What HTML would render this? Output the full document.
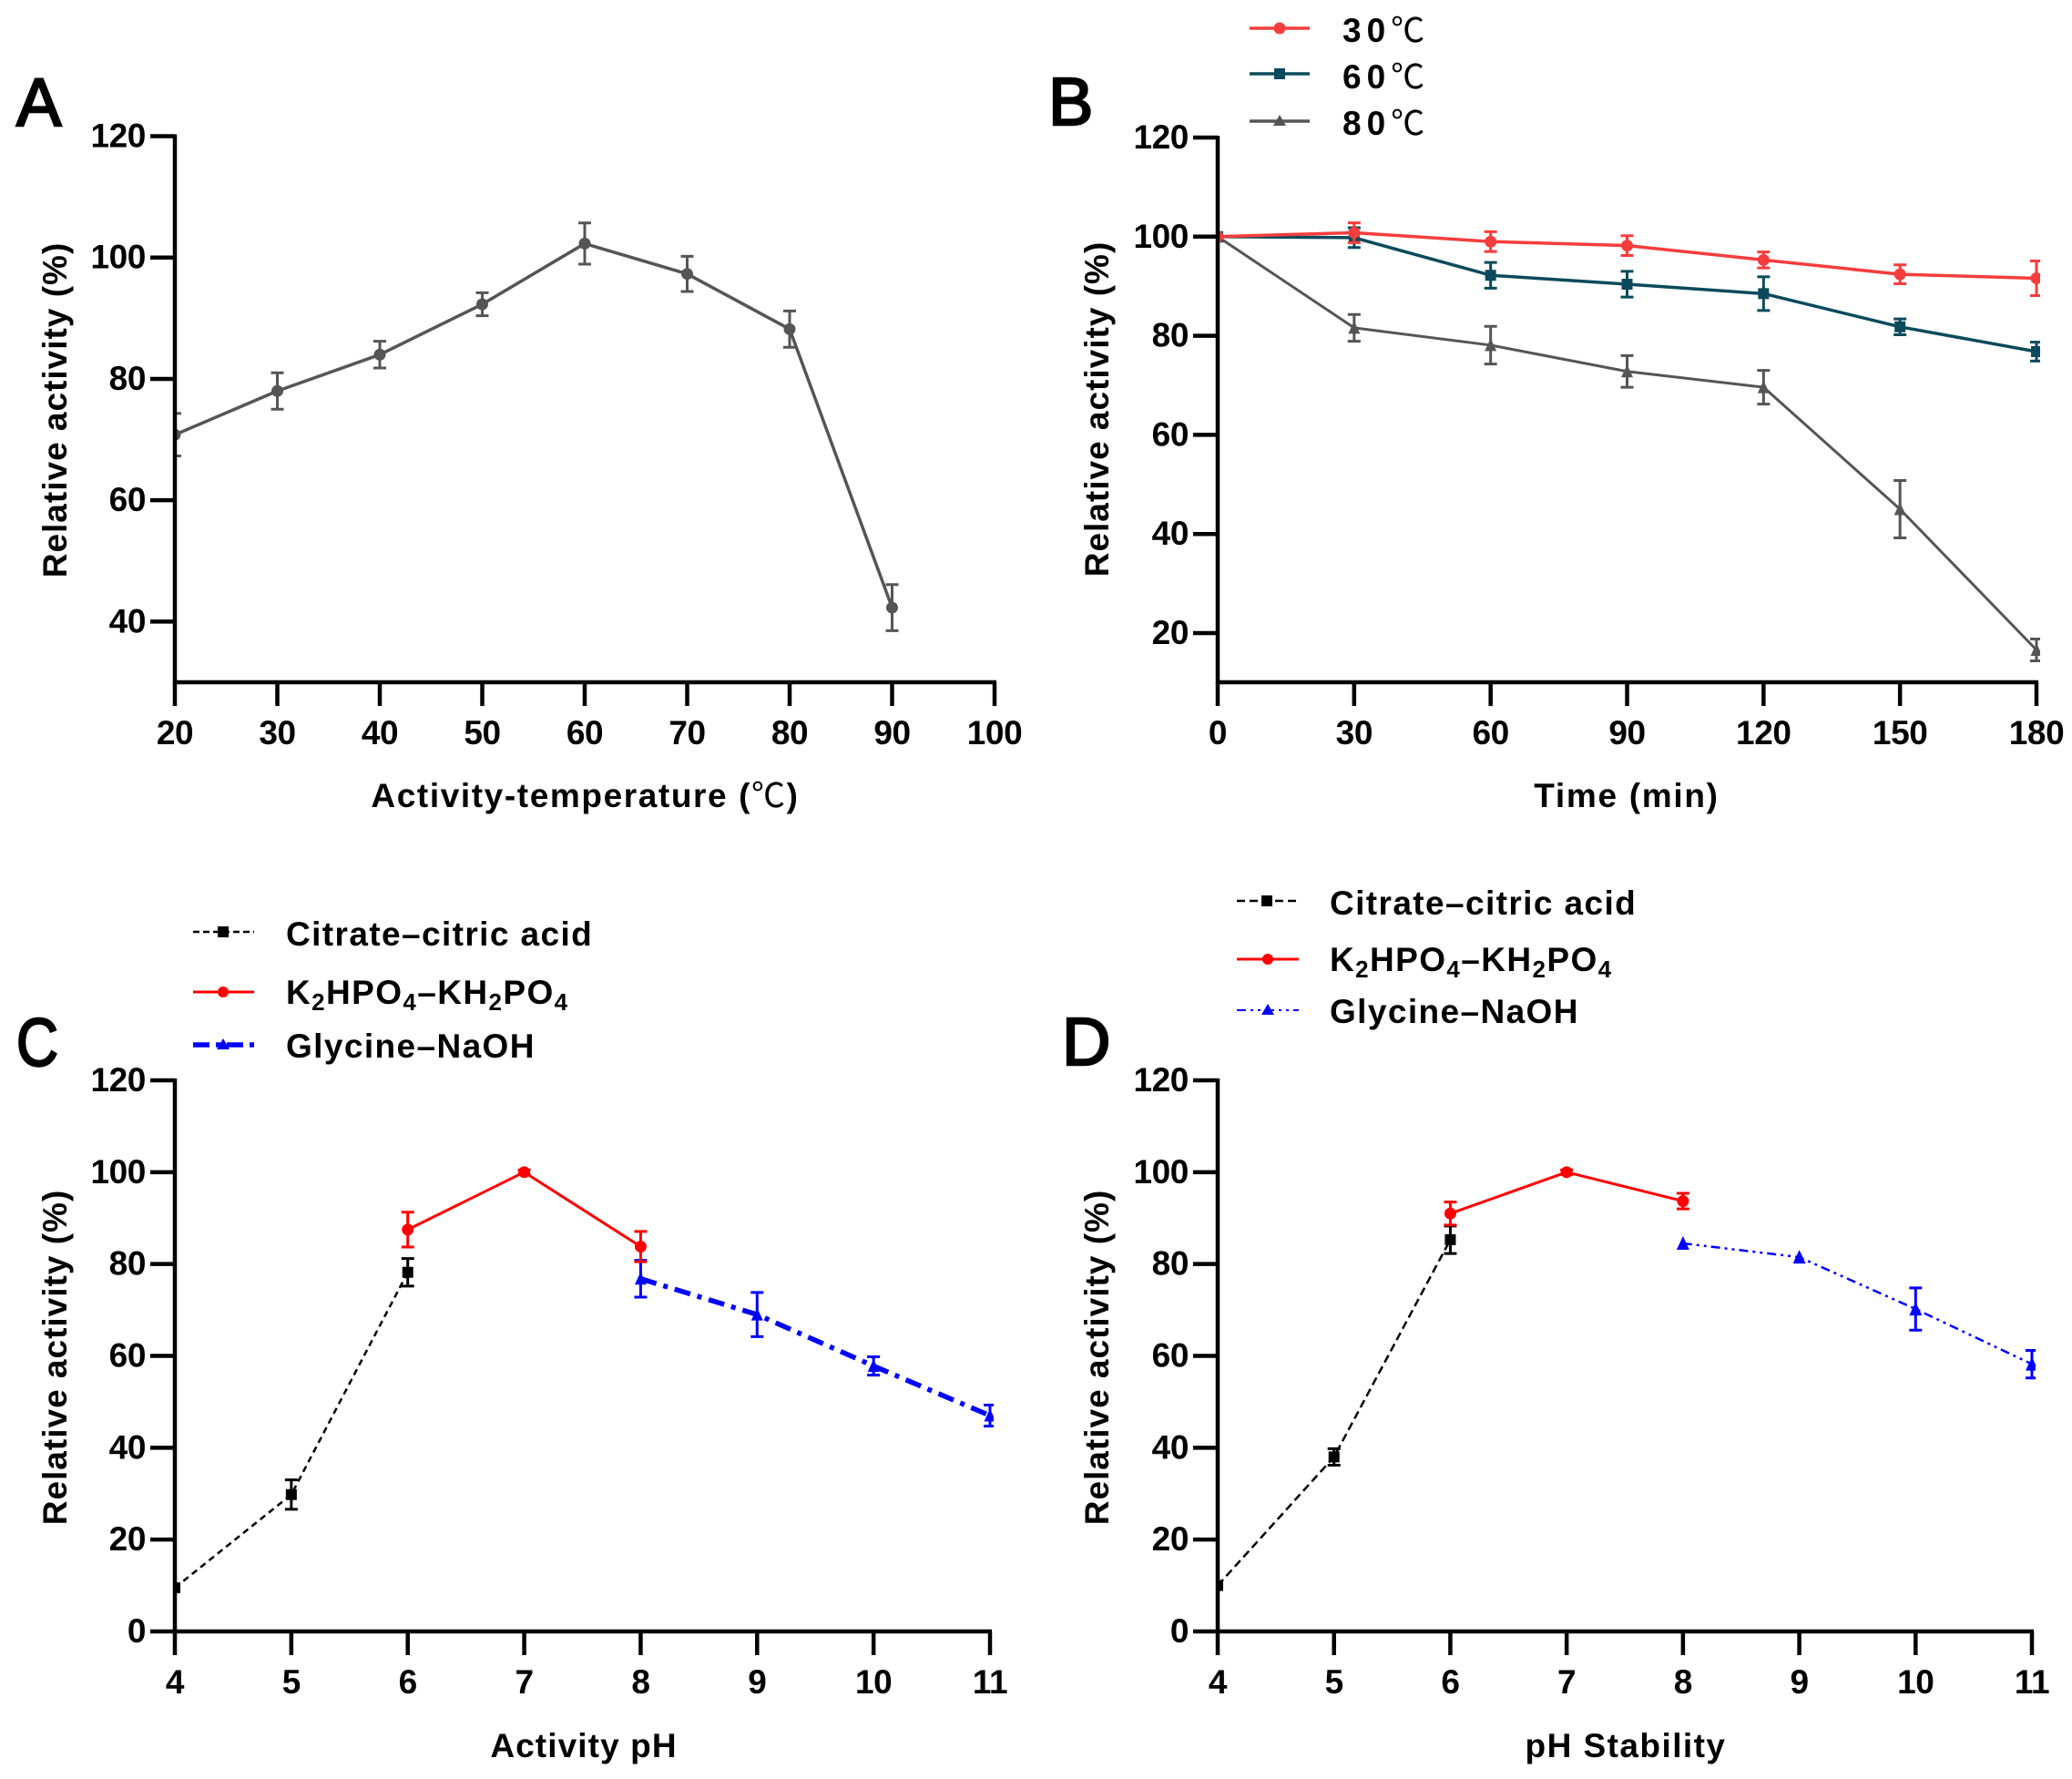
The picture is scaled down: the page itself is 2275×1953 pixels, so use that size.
<!DOCTYPE html>
<html lang="en">
<head>
<meta charset="utf-8">
<title>Enzyme relative activity panels</title>
<style>
html,body{margin:0;padding:0;background:#fff;width:2275px;height:1953px;overflow:hidden}
svg{display:block}
text{font-family:"Liberation Sans","Noto Sans CJK SC",sans-serif;font-weight:700;fill:#000}
.tick{font-size:37px;letter-spacing:-0.4px}
.title{font-size:37px;letter-spacing:1px}
.leg{font-size:37px;letter-spacing:1.4px}
.letter{font-size:74px;font-weight:400;stroke:#000;stroke-width:2.4px}
.cjk{font-family:"Noto Sans CJK SC",sans-serif;font-weight:400}
</style>
</head>
<body>
<svg id="figure" width="2275" height="1953" viewBox="0 0 2275 1953" xmlns="http://www.w3.org/2000/svg">
  <rect width="2275" height="1953" fill="#fff"/>

  <g id="panel-a">
    <text class="letter" x="18" y="138">A</text>
    <text class="title" transform="translate(73,450) rotate(-90)" text-anchor="middle">Relative activity (%)</text>
    <text class="title" x="642.5" y="886" text-anchor="middle" style="letter-spacing:1.6px">Activity-temperature (<tspan class="cjk">℃</tspan>)</text>
  </g>

  <g id="panel-b">
    <text class="letter" x="1151" y="137">B</text>
    <text class="title" transform="translate(1217,449) rotate(-90)" text-anchor="middle">Relative activity (%)</text>
    <text class="title" x="1786" y="886" text-anchor="middle" style="letter-spacing:1.7px">Time (min)</text>
    <g>
      <line x1="1372" x2="1438" y1="31" y2="31" stroke="#f53d3d" stroke-width="3.5"/>
      <circle cx="1405" cy="31" r="6.5" fill="#f53d3d"/>
      <text class="leg" x="1474" y="46" style="letter-spacing:6px">30<tspan class="cjk" style="letter-spacing:0">℃</tspan></text>
    </g>
    <g>
      <line x1="1372" x2="1438" y1="81" y2="81" stroke="#0b4a5c" stroke-width="3.5"/>
      <rect x="1399" y="75" width="12" height="12" fill="#0b4a5c"/>
      <text class="leg" x="1474" y="97" style="letter-spacing:6px">60<tspan class="cjk" style="letter-spacing:0">℃</tspan></text>
    </g>
    <g>
      <line x1="1372" x2="1438" y1="133" y2="133" stroke="#555" stroke-width="3.5"/>
      <polygon points="1405,126 1412,138 1398,138" fill="#555"/>
      <text class="leg" x="1474" y="148" style="letter-spacing:6px">80<tspan class="cjk" style="letter-spacing:0">℃</tspan></text>
    </g>
  </g>

  <g id="panel-c">
    <text class="letter" x="18" y="1170" textLength="46" lengthAdjust="spacingAndGlyphs">C</text>
    <text class="title" transform="translate(73,1490) rotate(-90)" text-anchor="middle">Relative activity (%)</text>
    <text class="title" x="641" y="1929" text-anchor="middle" style="letter-spacing:1.1px">Activity pH</text>
    <g>
      <line x1="212" x2="279" y1="1023" y2="1023" stroke="#000" stroke-width="2.5" stroke-dasharray="7 4"/>
      <rect x="239" y="1017" width="12" height="12" fill="#000"/>
      <text class="leg" x="314" y="1038">Citrate–citric acid</text>
    </g>
    <g>
      <line x1="212" x2="279" y1="1089" y2="1089" stroke="#f00" stroke-width="3"/>
      <circle cx="245" cy="1089" r="6" fill="#f00"/>
      <text class="leg" x="314" y="1102">K<tspan dy="7" font-size="26">2</tspan><tspan dy="-7">HPO</tspan><tspan dy="7" font-size="26">4</tspan><tspan dy="-7">–KH</tspan><tspan dy="7" font-size="26">2</tspan><tspan dy="-7">PO</tspan><tspan dy="7" font-size="26">4</tspan></text>
    </g>
    <g>
      <line x1="212" x2="279" y1="1147" y2="1147" stroke="#00f" stroke-width="5.5" stroke-dasharray="18 7 5 7"/>
      <polygon points="245,1140 252,1152 238,1152" fill="#00f"/>
      <text class="leg" x="314" y="1161">Glycine–NaOH</text>
    </g>
  </g>

  <g id="panel-d">
    <text class="letter" x="1166" y="1169">D</text>
    <text class="title" transform="translate(1217,1490) rotate(-90)" text-anchor="middle">Relative activity (%)</text>
    <text class="title" x="1785" y="1929" text-anchor="middle" style="letter-spacing:1.45px">pH Stability</text>
    <g>
      <line x1="1358" x2="1426" y1="989" y2="989" stroke="#000" stroke-width="2.5" stroke-dasharray="9 5"/>
      <rect x="1385" y="983" width="12" height="12" fill="#000"/>
      <text class="leg" x="1460" y="1004">Citrate–citric acid</text>
    </g>
    <g>
      <line x1="1358" x2="1426" y1="1053" y2="1053" stroke="#f00" stroke-width="3"/>
      <circle cx="1392" cy="1053" r="6" fill="#f00"/>
      <text class="leg" x="1460" y="1066">K<tspan dy="7" font-size="26">2</tspan><tspan dy="-7">HPO</tspan><tspan dy="7" font-size="26">4</tspan><tspan dy="-7">–KH</tspan><tspan dy="7" font-size="26">2</tspan><tspan dy="-7">PO</tspan><tspan dy="7" font-size="26">4</tspan></text>
    </g>
    <g>
      <line x1="1358" x2="1426" y1="1109" y2="1109" stroke="#00f" stroke-width="2" stroke-dasharray="10 5 3 5 3 5"/>
      <polygon points="1392,1102 1399,1114 1385,1114" fill="#00f"/>
      <text class="leg" x="1460" y="1123">Glycine–NaOH</text>
    </g>
  </g>
</svg>

<script>
/* Panel A data */
const tempCategories = [20, 30, 40, 50, 60, 70, 80, 90];
const tempActivity = [70.8, 78, 84, 92.3, 102.3, 97.3, 88.2, 42.3];
const tempError = [3.5, 3, 2.2, 1.9, 3.4, 2.9, 3, 3.8];
const tempXTicks = [20, 30, 40, 50, 60, 70, 80, 90, 100];
const tempYTicks = [40, 60, 80, 100, 120];

/* Panel B data */
const timeCategories = [0, 30, 60, 90, 120, 150, 180];
const stability30 = [100, 100.8, 99, 98.2, 95.3, 92.4, 91.6];
const stability30Error = [0, 2, 2, 2, 1.6, 1.9, 3.5];
const stability60 = [100, 99.8, 92.2, 90.4, 88.5, 81.8, 76.8];
const stability60Error = [0, 2, 2.6, 2.6, 3.4, 1.6, 1.9];
const stability80 = [100, 81.6, 78.1, 72.8, 69.6, 45, 16.6];
const stability80Error = [0, 2.7, 3.8, 3.2, 3.4, 5.8, 2.2];
const timeXTicks = [0, 30, 60, 90, 120, 150, 180];
const timeYTicks = [20, 40, 60, 80, 100, 120];

/* Panel C data */
const citrateCategories = [4, 5, 6];
const phosphateCategories = [6, 7, 8];
const glycineCategories = [8, 9, 10, 11];
const activityCitrate = [9.5, 29.8, 78.2];
const activityCitrateError = [0, 3.2, 3];
const activityPhosphate = [87.5, 100, 83.8];
const activityPhosphateError = [3.8, 0.5, 3.3];
const activityGlycine = [76.8, 69, 57.8, 47];
const activityGlycineError = [4, 4.8, 2, 2.3];

/* Panel D data */
const phStabilityCitrate = [10, 38, 85.3];
const phStabilityCitrateError = [0, 1.8, 3];
const phStabilityPhosphate = [91, 100, 93.7];
const phStabilityPhosphateError = [2.5, 0.5, 1.7];
const phStabilityGlycine = [84.5, 81.5, 70.2, 58.2];
const phStabilityGlycineError = [0, 0, 4.6, 3];

const phXTicks = [4, 5, 6, 7, 8, 9, 10, 11];
const phYTicks = [0, 20, 40, 60, 80, 100, 120];

const SVG_NS = 'http://www.w3.org/2000/svg';

function addEl(parent, tag, attrs, name) {
  const el = document.createElementNS(SVG_NS, tag);
  for (const k in attrs) el.setAttribute(k, attrs[k]);
  
  
  parent.appendChild(el);
  return el;
}

function linearScale(d0, d1, r0, r1) {
  return function (v) { return r0 + (v - d0) * (r1 - r0) / (d1 - d0); };
}

function makeClip(parent, key, box) {
  const clip = addEl(parent, 'clipPath', { id: 'clip-' + key }, 'plot-clip-' + key);
  addEl(clip, 'rect', { x: box.left - 2, y: 0, width: box.right - box.left + 6, height: 1953 }, 'plot-clip-rect-' + key);
  return addEl(parent, 'g', { 'clip-path': 'url(#clip-' + key + ')' }, 'plot-area-' + key);
}

function drawMarker(g, shape, cx, cy, size, color, name) {
  if (shape === 'circle') {
    addEl(g, 'circle', { cx: cx, cy: cy, r: size, fill: color }, name);
  } else if (shape === 'square') {
    addEl(g, 'rect', { x: cx - size, y: cy - size, width: 2 * size, height: 2 * size, fill: color }, name);
  } else {
    const pts = cx + ',' + (cy - size - 1) + ' ' + (cx + size) + ',' + (cy + size) + ' ' + (cx - size) + ',' + (cy + size);
    addEl(g, 'polygon', { points: pts, fill: color }, name);
  }
}

function drawSeries(parent, key, xs, ys, errs, style, xScale, yScale) {
  const g = addEl(parent, 'g', {}, 'series-' + key);
  const pts = xs.map(function (x, i) { return xScale(x) + ',' + yScale(ys[i]); }).join(' ');
  const lineAttrs = { points: pts, fill: 'none', stroke: style.color, 'stroke-width': style.width, 'stroke-linejoin': 'round' };
  if (style.dash) lineAttrs['stroke-dasharray'] = style.dash;
  addEl(g, 'polyline', lineAttrs, 'line-' + key);
  xs.forEach(function (x, i) {
    const px = xScale(x);
    const py = yScale(ys[i]);
    if (errs[i] > 0) {
      const top = yScale(ys[i] + errs[i]);
      const bot = yScale(ys[i] - errs[i]);
      const cap = style.cap || 7;
      const d = 'M' + px + ' ' + top + 'V' + bot + 'M' + (px - cap) + ' ' + top + 'H' + (px + cap) + 'M' + (px - cap) + ' ' + bot + 'H' + (px + cap);
      addEl(g, 'path', { d: d, fill: 'none', stroke: style.color, 'stroke-width': style.errWidth || 3 }, 'error-bar-' + key + '-' + x);
    }
    drawMarker(g, style.shape, px, py, style.size, style.color, 'point-' + key + '-' + x);
  });
}

function drawAxes(parent, key, box, xTicks, yTicks, xScale, yScale) {
  const g = addEl(parent, 'g', {}, 'axes-' + key);
  addEl(g, 'line', { x1: box.left, x2: box.left, y1: box.top - 2, y2: box.bottom + 2, stroke: '#000', 'stroke-width': 4.5 }, 'y-axis-' + key);
  addEl(g, 'line', { x1: box.left - 2, x2: box.right + 2, y1: box.bottom, y2: box.bottom, stroke: '#000', 'stroke-width': 4.5 }, 'x-axis-' + key);
  xTicks.forEach(function (t) {
    const x = xScale(t);
    addEl(g, 'line', { x1: x, x2: x, y1: box.bottom, y2: box.bottom + 26, stroke: '#000', 'stroke-width': 4.5 }, 'x-tick-' + key + '-' + t);
    const label = addEl(g, 'text', { class: 'tick', x: x, y: box.xLabelY, 'text-anchor': 'middle' }, 'x-tick-label-' + key + '-' + t);
    label.textContent = t;
  });
  yTicks.forEach(function (t) {
    const y = yScale(t);
    addEl(g, 'line', { x1: box.left - 27, x2: box.left, y1: y, y2: y, stroke: '#000', 'stroke-width': 4.5 }, 'y-tick-' + key + '-' + t);
    const label = addEl(g, 'text', { class: 'tick', x: box.left - 32, y: y + 12, 'text-anchor': 'end' }, 'y-tick-label-' + key + '-' + t);
    label.textContent = t;
  });
}

const grey = '#555555';
const red30 = '#f53d3d';
const teal = '#0b4a5c';

/* Panel A */
(function () {
  const parent = document.getElementById('panel-a');
  const box = { left: 192, right: 1092, top: 149.5, bottom: 749, xLabelY: 817 };
  const x = linearScale(20, 100, box.left, box.right);
  const y = linearScale(120, 30, box.top, box.bottom);
  const plot = makeClip(parent, 'a', box);
  drawSeries(plot, 'activity-temperature', tempCategories, tempActivity, tempError,
    { color: grey, width: 3.5, shape: 'circle', size: 6.5 }, x, y);
  drawAxes(parent, 'a', box, tempXTicks, tempYTicks, x, y);
})();

/* Panel B */
(function () {
  const parent = document.getElementById('panel-b');
  const box = { left: 1337, right: 2236, top: 151, bottom: 749, xLabelY: 817 };
  const x = linearScale(0, 180, box.left, box.right);
  const y = linearScale(120, 20, box.top, 695);
  const plot = makeClip(parent, 'b', box);
  drawSeries(plot, '80c', timeCategories, stability80, stability80Error,
    { color: grey, width: 3, shape: 'triangle', size: 6.5 }, x, y);
  drawSeries(plot, '60c', timeCategories, stability60, stability60Error,
    { color: teal, width: 3.5, shape: 'square', size: 6 }, x, y);
  drawSeries(plot, '30c', timeCategories, stability30, stability30Error,
    { color: red30, width: 3.5, shape: 'circle', size: 6.5 }, x, y);
  drawAxes(parent, 'b', box, timeXTicks, timeYTicks, x, y);
})();

/* Panel C */
(function () {
  const parent = document.getElementById('panel-c');
  const box = { left: 192, right: 1087, top: 1186, bottom: 1791, xLabelY: 1859 };
  const x = linearScale(4, 11, box.left, box.right);
  const y = linearScale(120, 0, box.top, box.bottom);
  const plot = makeClip(parent, 'c', box);
  drawSeries(plot, 'citrate-c', citrateCategories, activityCitrate, activityCitrateError,
    { color: '#000', width: 2.5, dash: '7 5', shape: 'square', size: 6 }, x, y);
  drawSeries(plot, 'glycine-c', glycineCategories, activityGlycine, activityGlycineError,
    { color: '#00f', width: 5.5, dash: '18 8 5 8', shape: 'triangle', size: 6.5 }, x, y);
  drawSeries(plot, 'phosphate-c', phosphateCategories, activityPhosphate, activityPhosphateError,
    { color: '#f00', width: 3, shape: 'circle', size: 6.5 }, x, y);
  drawAxes(parent, 'c', box, phXTicks, phYTicks, x, y);
})();

/* Panel D */
(function () {
  const parent = document.getElementById('panel-d');
  const box = { left: 1337, right: 2231, top: 1186, bottom: 1791, xLabelY: 1859 };
  const x = linearScale(4, 11, box.left, box.right);
  const y = linearScale(120, 0, box.top, box.bottom);
  const plot = makeClip(parent, 'd', box);
  drawSeries(plot, 'citrate-d', citrateCategories, phStabilityCitrate, phStabilityCitrateError,
    { color: '#000', width: 2.5, dash: '9 5', shape: 'square', size: 6 }, x, y);
  drawSeries(plot, 'glycine-d', glycineCategories, phStabilityGlycine, phStabilityGlycineError,
    { color: '#00f', width: 2.5, dash: '10 5 3 5 3 5', shape: 'triangle', size: 7 }, x, y);
  drawSeries(plot, 'phosphate-d', phosphateCategories, phStabilityPhosphate, phStabilityPhosphateError,
    { color: '#f00', width: 3, shape: 'circle', size: 6.5 }, x, y);
  drawAxes(parent, 'd', box, phXTicks, phYTicks, x, y);
})();
</script>
</body>
</html>
